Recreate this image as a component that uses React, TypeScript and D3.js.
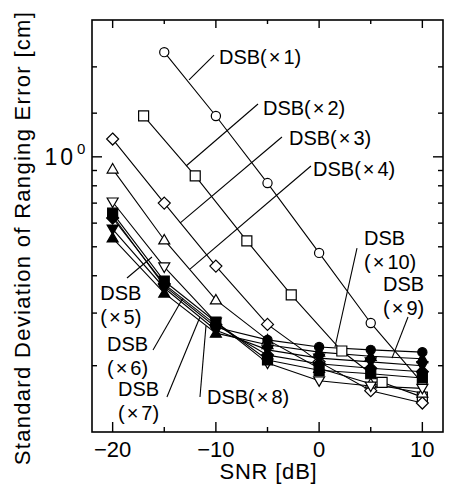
import * as d3 from "d3";
import React from "react";

// SNR sample points [dB]
const snr = [-20, -15, -10, -5, 0, 5, 10];
const snrX1 = [-15, -10, -5, 0, 5, 10];
const snrX2 = [-17, -12, -7, -2.7, 2.2, 6.1, 10];

// standard deviation of ranging error [cm]
const dsb1 = [2.24, 1.37, 0.817, 0.477, 0.278, 0.175];
const dsb2 = [1.37, 0.863, 0.523, 0.345, 0.224, 0.176, 0.157];
const dsb3 = [1.147, 0.7, 0.431, 0.275, 0.206, 0.165, 0.15];
const dsb4 = [0.91, 0.527, 0.332, 0.244, 0.196, 0.174, 0.162];
const dsb5 = [0.706, 0.428, 0.28, 0.204, 0.178, 0.171, 0.168];
const dsb6 = [0.648, 0.384, 0.28, 0.209, 0.193, 0.188, 0.182];
const dsb7 = [0.624, 0.375, 0.274, 0.217, 0.203, 0.196, 0.191];
const dsb8 = [0.573, 0.364, 0.263, 0.226, 0.212, 0.206, 0.2];
const dsb9 = [0.535, 0.35, 0.257, 0.235, 0.222, 0.215, 0.211];
const dsb10 = [0.634, 0.37, 0.269, 0.244, 0.231, 0.226, 0.222];

const xMajor = [-20, -10, 0, 10];
const xMinor = [-15, -5, 5];
const yMajor = [1];
const yMinor = [0.2, 0.3, 0.4, 0.5, 0.6, 0.7, 0.8, 0.9, 1.4, 2];

const series = [
  { xs: snrX1, ys: dsb1, marker: "circle", filled: false },
  { xs: snrX2, ys: dsb2, marker: "square", filled: false },
  { xs: snr, ys: dsb3, marker: "diamond", filled: false },
  { xs: snr, ys: dsb4, marker: "triUp", filled: false },
  { xs: snr, ys: dsb5, marker: "triDown", filled: false },
  { xs: snr, ys: dsb6, marker: "square", filled: true },
  { xs: snr, ys: dsb7, marker: "diamond", filled: true },
  { xs: snr, ys: dsb8, marker: "triDown", filled: true },
  { xs: snr, ys: dsb9, marker: "triUp", filled: true },
  { xs: snr, ys: dsb10, marker: "circle", filled: true },
];

// label text lines, text anchor and leader line, all in data coordinates
const labels = [
  { lines: [["DSB(", "1)"]], at: [-9.7, 2.16], from: [-10.18, 2.19], to: [-12.6, 1.81] },
  { lines: [["DSB(", "2)"]], at: [-5.44, 1.457], from: [-5.92, 1.502], to: [-12.89, 0.932] },
  { lines: [["DSB(", "3)"]], at: [-2.92, 1.156], from: [-3.6, 1.165], to: [-13.48, 0.6] },
  { lines: [["DSB(", "4)"]], at: [-0.59, 0.91], from: [-0.79, 0.932], to: [-12.51, 0.421] },
  { lines: [["DSB", ""], ["(", "5)"]], at: [-21.2, 0.35], from: [-18.61, 0.393], to: [-16.19, 0.462] },
  { lines: [["DSB", ""], ["(", "6)"]], at: [-20.55, 0.2362], from: [-16.09, 0.2256], to: [-13.19, 0.3369] },
  { lines: [["DSB", ""], ["(", "7)"]], at: [-19.48, 0.1671], from: [-14.74, 0.1571], to: [-11.54, 0.291] },
  { lines: [["DSB(", "8)"]], at: [-10.86, 0.1571], from: [-11.54, 0.1571], to: [-10.96, 0.2716] },
  { lines: [["DSB", ""], ["(", "10)"]], at: [4.35, 0.535], from: [3.67, 0.4953], to: [1.54, 0.231] },
  { lines: [["DSB", ""], ["(", "9)"]], at: [6.19, 0.3753], from: [8.61, 0.291], to: [7.06, 0.2121] },
];

const W = 456;
const H = 485;
const margin = { top: 20, right: 13, bottom: 53, left: 92 };
const font = "'Liberation Sans', Arial, Helvetica, sans-serif";

function markerPath(kind: string, cx: number, cy: number) {
  if (kind === "circle") {
    const p = d3.path();
    p.arc(cx, cy, 4.6, 0, Math.PI * 2);
    return p.toString();
  }
  if (kind === "square") {
    const s = 5;
    return `M${cx - s},${cy - s}H${cx + s}V${cy + s}H${cx - s}Z`;
  }
  if (kind === "diamond") {
    const s = 6;
    return `M${cx},${cy - s}L${cx + s},${cy}L${cx},${cy + s}L${cx - s},${cy}Z`;
  }
  if (kind === "triUp") {
    return `M${cx},${cy - 5.5}L${cx + 5.5},${cy + 4}L${cx - 5.5},${cy + 4}Z`;
  }
  return `M${cx},${cy + 5.5}L${cx + 5.5},${cy - 4}L${cx - 5.5},${cy - 4}Z`;
}

export default function App() {
  const x = d3.scaleLinear().domain([-22, 12]).range([margin.left, W - margin.right]);
  const y = d3.scaleLog().domain([0.12, 2.87]).range([H - margin.bottom, margin.top]);
  const x0 = margin.left;
  const x1 = W - margin.right;
  const y0 = H - margin.bottom;
  const y1 = margin.top;

  const line = d3
    .line<[number, number]>()
    .x((d) => x(d[0]))
    .y((d) => y(d[1]));

  return (
    <svg width={W} height={H} style={{ position: "absolute", left: 0, top: 0, background: "#fff" }} fontFamily={font}>
      <rect x={0} y={0} width={W} height={H} fill="#fff" />
      {/* data lines */}
      {series.map((s, i) => (
        <path key={"l" + i} d={line(s.xs.map((v, j) => [v, s.ys[j]]) as [number, number][]) || ""} fill="none" stroke="#000" strokeWidth={1.1} />
      ))}
      {/* markers */}
      {series.map((s, i) => (
        <g key={"m" + i}>
          {s.xs.map((v, j) => (
            <path
              key={j}
              d={markerPath(s.marker, x(v), y(s.ys[j]))}
              fill={s.filled ? "#000" : "#fff"}
              stroke="#000"
              strokeWidth={1.2}
            />
          ))}
        </g>
      ))}
      {/* leader lines and labels */}
      {labels.map((l, i) => (
        <g key={"a" + i}>
          <line x1={x(l.from[0])} y1={y(l.from[1])} x2={x(l.to[0])} y2={y(l.to[1])} stroke="#000" strokeWidth={1.1} />
          {l.lines.map((t, k) => (
            <text key={k} x={x(l.at[0])} y={y(l.at[1]) + k * 23.5} dy="0.35em" fontSize={20} fill="#000">
              {t[0]}
              {t[1] !== "" && <tspan dx={2}>×</tspan>}
              {t[1] !== "" && <tspan dx={3}>{t[1]}</tspan>}
            </text>
          ))}
        </g>
      ))}
      {/* frame */}
      <rect x={x0} y={y1} width={x1 - x0} height={y0 - y1} fill="none" stroke="#000" strokeWidth={1.6} />
      {/* x ticks */}
      {xMajor.map((v) => (
        <g key={"xM" + v}>
          <line x1={x(v)} x2={x(v)} y1={y0} y2={y0 - 10} stroke="#000" strokeWidth={1.4} />
          <line x1={x(v)} x2={x(v)} y1={y1} y2={y1 + 8} stroke="#000" strokeWidth={1.4} />
          <text x={x(v)} y={y0 + 25} textAnchor="middle" fontSize={22} fill="#000">
            {v < 0 ? "\u2212" + Math.abs(v) : v}
          </text>
        </g>
      ))}
      {xMinor.map((v) => (
        <g key={"xm" + v}>
          <line x1={x(v)} x2={x(v)} y1={y0} y2={y0 - 5} stroke="#000" strokeWidth={1.4} />
          <line x1={x(v)} x2={x(v)} y1={y1} y2={y1 + 4} stroke="#000" strokeWidth={1.4} />
        </g>
      ))}
      {/* y ticks */}
      {yMajor.map((v) => (
        <g key={"yM" + v}>
          <line x1={x0} x2={x0 + 10} y1={y(v)} y2={y(v)} stroke="#000" strokeWidth={1.4} />
          <line x1={x1} x2={x1 - 10} y1={y(v)} y2={y(v)} stroke="#000" strokeWidth={1.4} />
          <text x={x0 - 16} y={y(v) + 8} textAnchor="end" fontSize={23} letterSpacing={3} fill="#000">
            10
          </text>
          <text x={x0 - 15} y={y(v) - 3} textAnchor="start" fontSize={15} fill="#000">
            0
          </text>
        </g>
      ))}
      {yMinor.map((v) => (
        <g key={"ym" + v}>
          <line x1={x0} x2={x0 + 5} y1={y(v)} y2={y(v)} stroke="#000" strokeWidth={1.4} />
          <line x1={x1} x2={x1 - 5} y1={y(v)} y2={y(v)} stroke="#000" strokeWidth={1.4} />
        </g>
      ))}
      {/* axis titles */}
      <text x={(x0 + x1) / 2 + 1} y={H - 6} textAnchor="middle" fontSize={22} letterSpacing={0.8} fill="#000">
        SNR [dB]
      </text>
      <text
        transform={`translate(30,${(y0 + y1) / 2 + 12}) rotate(-90)`}
        textAnchor="middle"
        fontSize={22}
        letterSpacing={1.3}
        fill="#000"
      >
        Standard Deviation of Ranging Error [cm]
      </text>
    </svg>
  );
}
